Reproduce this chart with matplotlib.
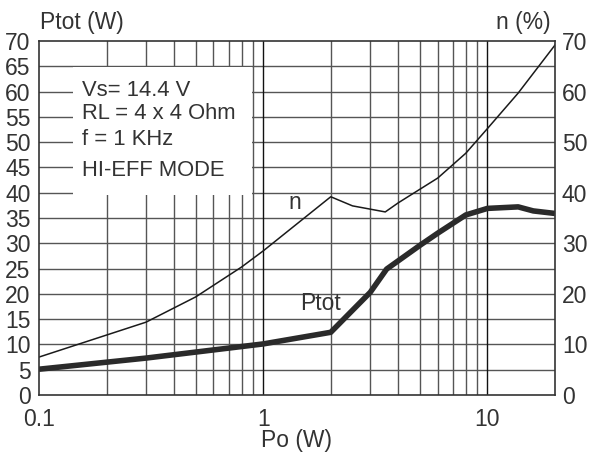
import matplotlib
matplotlib.use("Agg")
import matplotlib.pyplot as plt
from matplotlib.patches import Rectangle

plt.rcParams['font.family'] = ['Liberation Sans', 'DejaVu Sans']

# efficiency n (%) vs output power
n_po = [0.1, 0.3, 0.5, 0.8, 1, 2, 2.5, 3.5, 4, 6, 8, 10, 13.7, 20]
n_pct = [7.5, 14.4, 19.4, 25.3, 28.5, 39.2, 37.4, 36.2, 38, 42.9, 47.8, 52.7, 59.7, 69.2]

# total dissipated power Ptot (W) vs output power
ptot_po = [0.1, 0.3, 1, 2, 3, 3.55, 5, 6, 8, 10, 13.7, 16, 20]
ptot_w = [5.1, 7.3, 10.1, 12.4, 20.3, 24.9, 29.6, 32, 35.6, 36.9, 37.2, 36.4, 35.9]

left_ticks = list(range(0, 75, 5))
right_ticks = list(range(0, 80, 10))
x_ticks = [0.1, 1, 10]
x_labels = ['0.1', '1', '10']
x_minor = [0.2, 0.3, 0.4, 0.5, 0.6, 0.7, 0.8, 0.9, 2, 3, 4, 5, 6, 7, 8, 9]

box_lines = ['Vs= 14.4 V', 'RL = 4 x 4 Ohm', 'f = 1 KHz', 'HI-EFF MODE']
box_y = [60.3, 55.7, 50.6, 44.4]

txt = '#333333'
fs = 16.5
fig = plt.figure(figsize=(5.9, 4.54), dpi=100)
ax = fig.add_axes([39 / 590, 1 - 395 / 454, (555 - 39) / 590, (395 - 41) / 454])

ax.set_xscale('log')
ax.set_xlim(0.1, 20)
ax.set_ylim(0, 70)

# grid
for y in left_ticks[1:-1]:
    ax.axhline(y, color='#555555', lw=1, zorder=0.5)
for x in x_minor:
    ax.axvline(x, color='#555555', lw=1, zorder=0.5)
for x in [1, 10]:
    ax.axvline(x, color='#111111', lw=1, zorder=0.5)

# white label box hiding the grid
ax.add_patch(Rectangle((0.142, 39.6), 0.893 - 0.142, 64.8 - 39.6,
                       facecolor='white', edgecolor='none', zorder=1))
for s, y in zip(box_lines, box_y):
    ax.text(0.155, y, s, fontsize=15.8, color=txt, va='center', ha='left', zorder=3)

ax.plot(n_po, n_pct, color='#1a1a1a', lw=1.1, zorder=2)
ax.plot(ptot_po, ptot_w, color='#2a2a2a', lw=4, zorder=2, solid_capstyle='butt')

ax.text(1.3, 38.0, 'n', fontsize=fs, color=txt, va='center', ha='left')
ax.text(1.46, 18.0, 'Ptot', fontsize=fs, color=txt, va='center', ha='left')

ax.set_yticks(left_ticks)
ax.set_xticks(x_ticks)
ax.set_xticklabels(x_labels)
ax.set_xticks([], minor=True)
ax.tick_params(axis='both', length=0, labelsize=fs, labelcolor=txt)
ax.tick_params(axis='y', pad=6)
ax.tick_params(axis='x', pad=9)
for sp in ax.spines.values():
    sp.set_color('#333333')
    sp.set_linewidth(1.2)

ax2 = ax.twinx()
ax2.set_ylim(0, 70)
ax2.set_yticks(right_ticks)
ax2.tick_params(axis='y', length=0, labelsize=fs, labelcolor=txt, pad=5)
for sp in ax2.spines.values():
    sp.set_visible(False)

fig.text(40 / 590, 1 - 22 / 454, 'Ptot (W)', fontsize=fs, color=txt, va='center', ha='left')
fig.text(551 / 590, 1 - 22 / 454, 'n (%)', fontsize=fs, color=txt, va='center', ha='right')
fig.text(297 / 590, 1 - 441 / 454, 'Po (W)', fontsize=fs, color=txt, va='center', ha='center')

fig.savefig('out.png', dpi=100)
